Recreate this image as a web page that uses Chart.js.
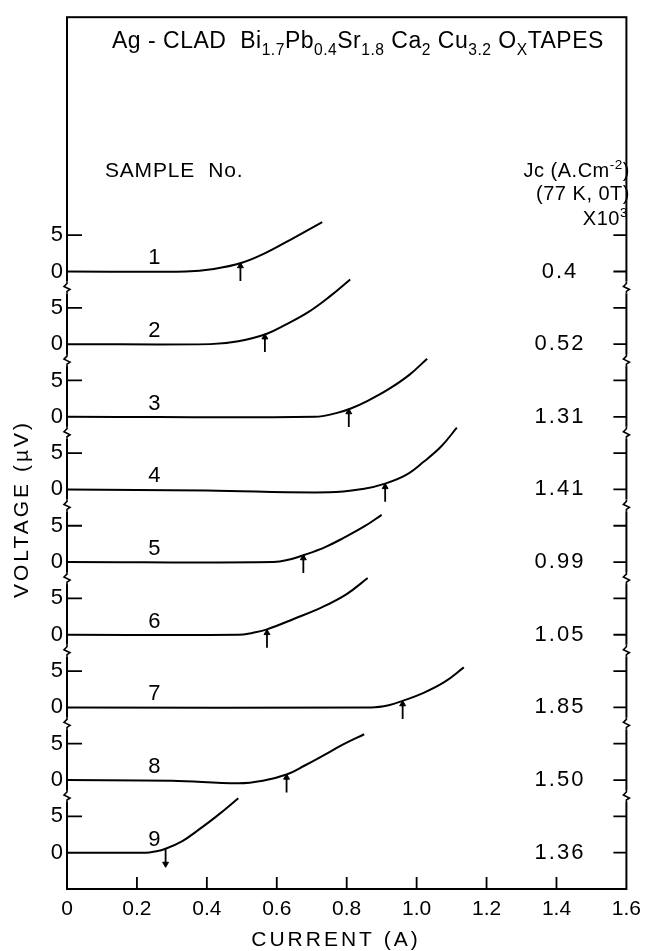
<!DOCTYPE html>
<html>
<head>
<meta charset="utf-8">
<script src="https://cdn.jsdelivr.net/npm/chart.js@4.4.0/dist/chart.umd.min.js"></script>
<style>
  html, body { margin: 0; padding: 0; background: #fff; }
  canvas { display: block; }
</style>
</head>
<body>
<canvas id="c" width="649" height="951"></canvas>
<script>
// sample labels and Jc column (x10^3 A/cm2)
const sampleNos = ["1", "2", "3", "4", "5", "6", "7", "8", "9"];
const jcValues = ["0.4", "0.52", "1.31", "1.41", "0.99", "1.05", "1.85", "1.50", "1.36"];

// x axis ticks (current, A)
const xTicks = [0, 0.2, 0.4, 0.6, 0.8, 1.0, 1.2, 1.4, 1.6];
const xTickLabels = ["0", "0.2", "0.4", "0.6", "0.8", "1.0", "1.2", "1.4", "1.6"];

// V-I curves: current (A) / voltage (uV)
const s1I = [0, 0.34, 0.42, 0.50, 0.57, 0.64, 0.73];
const s1V = [0, 0, 0.35, 1.2, 2.6, 4.4, 6.8];
const s2I = [0, 0.41, 0.49, 0.57, 0.63, 0.69, 0.75, 0.81];
const s2V = [0, 0, 0.4, 1.4, 2.8, 4.4, 6.5, 8.9];
const s3I = [0, 0.71, 0.77, 0.81, 0.86, 0.92, 0.98, 1.03];
const s3V = [0, 0, 0.5, 1.1, 2.2, 3.8, 5.8, 8.0];
const s4I = [0, 0.40, 0.75, 0.85, 0.91, 0.97, 1.02, 1.07, 1.115];
const s4V = [0, -0.15, -0.4, 0.1, 0.8, 2.0, 3.8, 5.9, 8.5];
const s5I = [0, 0.59, 0.64, 0.68, 0.74, 0.79, 0.85, 0.90];
const s5V = [0, 0, 0.4, 1.0, 2.1, 3.3, 4.9, 6.5];
const s6I = [0, 0.49, 0.53, 0.57, 0.65, 0.73, 0.80, 0.86];
const s6V = [0, 0, 0.25, 0.7, 2.2, 3.8, 5.6, 7.8];
const s7I = [0, 0.87, 0.92, 0.96, 1.02, 1.08, 1.135];
const s7V = [0, 0, 0.3, 0.9, 2.0, 3.5, 5.5];
const s8I = [0, 0.30, 0.49, 0.56, 0.63, 0.68, 0.73, 0.79, 0.85];
const s8V = [0, -0.1, -0.45, -0.1, 0.8, 2.0, 3.3, 4.9, 6.3];
const s9I = [0, 0.225, 0.25, 0.28, 0.33, 0.375, 0.43, 0.49];
const s9V = [0, 0, 0.15, 0.5, 1.6, 3.1, 5.1, 7.5];

// critical current arrows: position, voltage at curve, direction (1 up, -1 down)
const icI = [0.496, 0.566, 0.806, 0.91, 0.676, 0.572, 0.96, 0.628, 0.282];
const icV = [1.2, 1.4, 1.1, 0.8, 1.0, 0.7, 0.9, 0.8, 0.5];
const arrowDir = [1, 1, 1, 1, 1, 1, 1, 1, -1];

const curvesI = [s1I, s2I, s3I, s4I, s5I, s6I, s7I, s8I, s9I];
const curvesV = [s1V, s2V, s3V, s4V, s5V, s6V, s7V, s8V, s9V];

const FONT = '"Liberation Sans", Arial, sans-serif';
const stepUV = 10;      // vertical offset between stacked curves
const arrowLen = 2.5;
const nS = sampleNos.length;
const offsetOf = i => (nS - 1 - i) * stepUV;

const yTickVals = [];
for (let i = nS - 1; i >= 0; i--) yTickVals.push(offsetOf(i), offsetOf(i) + 5);

const datasets = [];
curvesI.forEach((xs, i) => {
  const off = offsetOf(i);
  datasets.push({
    data: xs.map((x, k) => ({ x, y: curvesV[i][k] + off })),
    borderColor: "#000",
    borderWidth: 2,
    pointRadius: 0,
    fill: false,
    tension: 0.4
  });
  const v = icV[i] + off;
  const up = arrowDir[i] > 0;
  const tail = up ? v - arrowLen : v;
  const head = up ? v - 0.45 : v - arrowLen + 0.45;
  datasets.push({
    data: [{ x: icI[i], y: tail }, { x: icI[i], y: head }],
    borderColor: "#000",
    borderWidth: 1.8,
    pointStyle: "triangle",
    pointRadius: [0, 3.4],
    pointRotation: up ? 0 : 180,
    pointBackgroundColor: "#000",
    pointBorderColor: "#000",
    pointBorderWidth: 1
  });
});

function richText(c, parts, x, y, size, align, spacing) {
  c.letterSpacing = (spacing || 0) + "px";
  let w = 0;
  parts.forEach(([t, k]) => {
    c.font = (k ? size * 0.68 : size) + "px " + FONT;
    w += c.measureText(t).width;
  });
  let cx = align === "right" ? x - w : align === "center" ? x - w / 2 : x;
  c.textAlign = "left";
  parts.forEach(([t, k]) => {
    const s = k ? size * 0.68 : size;
    c.font = s + "px " + FONT;
    const dy = k === 1 ? size * 0.32 : k === 2 ? -size * 0.42 : 0;
    c.fillText(t, cx, y + dy);
    cx += c.measureText(t).width;
  });
  c.letterSpacing = "0px";
}

function zigzag(c, x, y) {
  c.fillStyle = "#fff";
  c.fillRect(x - 3, y - 6, 6, 12);
  c.beginPath();
  c.moveTo(x, y - 6);
  c.lineTo(x, y - 4);
  c.lineTo(x - 3, y - 1);
  c.lineTo(x + 3, y + 2);
  c.lineTo(x, y + 4);
  c.lineTo(x, y + 6);
  c.stroke();
}

const decor = {
  id: "decor",
  beforeDatasetsDraw(chart) {
    const c = chart.ctx, a = chart.chartArea;
    const xs = chart.scales.x, ys = chart.scales.y;
    c.save();
    c.strokeStyle = "#000";
    c.lineWidth = 2;
    c.strokeRect(a.left, a.top, a.right - a.left, a.bottom - a.top);
    c.lineWidth = 1.8;
    c.beginPath();
    xTicks.slice(1, -1).forEach(v => {
      const px = xs.getPixelForValue(v);
      c.moveTo(px, a.bottom);
      c.lineTo(px, a.bottom - 12);
    });
    yTickVals.forEach(v => {
      const py = ys.getPixelForValue(v);
      if (v % 10 !== 0) {
        c.moveTo(a.left, py);
        c.lineTo(a.left + 15, py);
      }
      c.moveTo(a.right, py);
      c.lineTo(a.right - 13, py);
    });
    c.stroke();
    c.lineWidth = 1.6;
    for (let i = 0; i < nS - 1; i++) {
      const py = ys.getPixelForValue(offsetOf(i) - 2.2);
      zigzag(c, a.left, py);
      zigzag(c, a.right, py);
    }
    c.restore();
  },
  afterDraw(chart) {
    const c = chart.ctx;
    const xs = chart.scales.x, ys = chart.scales.y;
    c.save();
    c.fillStyle = "#000";
    c.textBaseline = "alphabetic";
    richText(c, [["Ag - CLAD  Bi", 0], ["1.7", 1], ["Pb", 0], ["0.4", 1], ["Sr", 0], ["1.8", 1],
      [" Ca", 0], ["2", 1], [" Cu", 0], ["3.2", 1], [" O", 0], ["X", 1], ["TAPES", 0]],
      112, 48, 23, "left", 0.5);
    richText(c, [["SAMPLE  No.", 0]], 105, 177, 21, "left", 0.8);
    richText(c, [["Jc (A.Cm", 0], ["-2", 2], [")", 0]], 630, 177, 20, "right", 0.5);
    richText(c, [["(77 K, 0T)", 0]], 630, 200, 20, "right", 0.5);
    richText(c, [["X10", 0], ["3", 2]], 628, 225, 20, "right", 0.5);

    c.font = "22px " + FONT;
    c.textBaseline = "middle";
    c.textAlign = "center";
    sampleNos.forEach((s, i) => {
      c.fillText(s, xs.getPixelForValue(0.25), ys.getPixelForValue(offsetOf(i) + 1.8));
    });
    c.letterSpacing = "2px";
    jcValues.forEach((s, i) => {
      c.fillText(s, xs.getPixelForValue(1.41), ys.getPixelForValue(offsetOf(i)));
    });

    c.font = "21px " + FONT;
    c.letterSpacing = "3px";
    c.textBaseline = "alphabetic";
    c.fillText("CURRENT (A)", 336, 946);
    c.translate(28, 509);
    c.rotate(-Math.PI / 2);
    c.fillText("VOLTAGE (\u00b5V)", 0, 0);
    c.restore();
  }
};

new Chart(document.getElementById("c"), {
  type: "line",
  data: { datasets },
  plugins: [decor],
  options: {
    responsive: false,
    animation: false,
    devicePixelRatio: 1,
    layout: { padding: { top: 10, right: 14, left: 0, bottom: 0 } },
    plugins: { legend: { display: false }, tooltip: { enabled: false } },
    scales: {
      x: {
        type: "linear",
        min: 0,
        max: 1.6,
        grid: { display: false, drawTicks: false },
        border: { display: false },
        afterBuildTicks: s => { s.ticks = xTicks.map(v => ({ value: v })); },
        afterFit: s => { s.height = 62; },
        ticks: {
          color: "#000",
          font: { family: FONT, size: 21 },
          padding: 8,
          maxRotation: 0,
          autoSkip: false,
          callback: (v, i) => xTickLabels[i]
        }
      },
      y: {
        type: "linear",
        min: -5,
        max: 115,
        grid: { display: false, drawTicks: false },
        border: { display: false },
        afterBuildTicks: s => { s.ticks = yTickVals.map(v => ({ value: v })); },
        afterFit: s => { s.width = 67; },
        ticks: {
          color: "#000",
          font: { family: FONT, size: 22 },
          padding: 4,
          autoSkip: false,
          callback: v => (v % 10 === 0 ? "0" : "5")
        }
      }
    }
  }
});
</script>
</body>
</html>
